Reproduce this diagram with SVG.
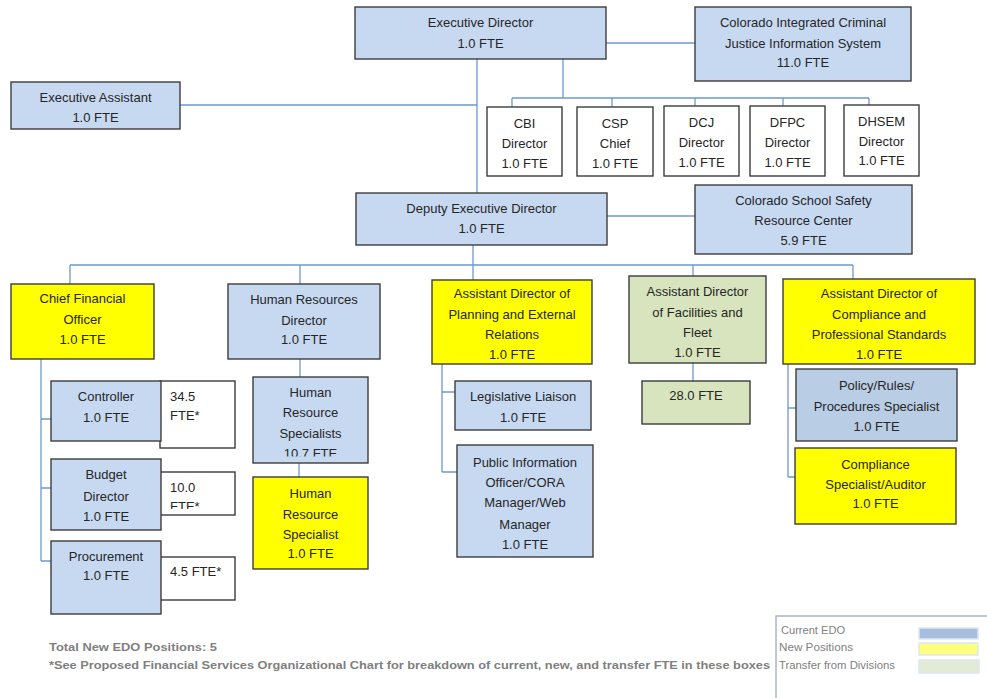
<svg xmlns="http://www.w3.org/2000/svg" width="987" height="698" viewBox="0 0 987 698">
<defs>
<style>
.b{stroke:#3c3c3c;stroke-width:1.4}
.blue{fill:#c6d9f1}
.blue2{fill:#b9cde5}
.yel{fill:#ffff00}
.grn{fill:#d7e4bd}
.wht{fill:#ffffff}
.t{font-family:"Liberation Sans",Arial,sans-serif;font-size:13px;fill:#262626;text-anchor:middle}
.tl{font-family:"Liberation Sans",Arial,sans-serif;font-size:13px;fill:#262626;text-anchor:start}
.c{fill:none;stroke:#6f98cb;stroke-width:1.3}
.ft{font-family:"Liberation Sans",Arial,sans-serif;font-size:11.5px;font-weight:bold;fill:#7f7f7f}
.lg{font-family:"Liberation Sans",Arial,sans-serif;font-size:10px;fill:#7f7f7f}
</style>
<clipPath id="clipHRS"><rect x="253" y="377" width="115" height="79.5"/></clipPath>
<clipPath id="clip10"><rect x="160" y="472" width="75" height="37"/></clipPath>
</defs>
<rect width="987" height="698" fill="#ffffff"/>

<g id="connectors">
<path class="c" d="M606 43H695"/>
<path class="c" d="M180 105H477"/>
<path class="c" d="M477 59V193"/>
<path class="c" d="M563 59V98M512 98H869M512 98V107M612 98V107M695 98V106M783 98V106M869 98V105"/>
<path class="c" d="M607 216H695"/>
<path class="c" d="M473 245V280"/>
<path class="c" d="M70 265H853M70 265V284M300 265V284M693 265V276M853 265V279"/>
<path class="c" d="M41 359V561M41 419H51M41 488H51M41 561H51"/>
<path class="c" d="M300 359V377M299 463V477"/>
<path class="c" d="M442 364V472M442 392H455M442 472H457"/>
<path class="c" d="M693 363V381"/>
<path class="c" d="M788 364V477M788 408H796M788 477H795"/>
</g>

<g id="executive-director"><rect class="b blue" x="355" y="7" width="251" height="52"/>
<text class="t" x="480.5" y="26.5">Executive Director</text><text class="t" x="480.5" y="48">1.0 FTE</text></g>

<g id="cicjis"><rect class="b blue" x="695" y="7" width="216" height="74"/>
<text class="t" x="803" y="26.5">Colorado Integrated Criminal</text><text class="t" x="803" y="47.5">Justice Information System</text><text class="t" x="803" y="67">11.0 FTE</text></g>

<g id="executive-assistant"><rect class="b blue" x="11" y="82" width="169" height="47"/>
<text class="t" x="95.5" y="101.5">Executive Assistant</text><text class="t" x="95.5" y="121.5">1.0 FTE</text></g>

<g id="cbi"><rect class="b wht" x="487" y="107" width="75" height="69"/>
<text class="t" x="524.5" y="127.5">CBI</text><text class="t" x="524.5" y="147.5">Director</text><text class="t" x="524.5" y="167.5">1.0 FTE</text></g>

<g id="csp"><rect class="b wht" x="577" y="107" width="76" height="69"/>
<text class="t" x="615" y="127.5">CSP</text><text class="t" x="615" y="147.5">Chief</text><text class="t" x="615" y="167.5">1.0 FTE</text></g>

<g id="dcj"><rect class="b wht" x="664" y="106" width="75" height="70"/>
<text class="t" x="701.5" y="126.5">DCJ</text><text class="t" x="701.5" y="146.5">Director</text><text class="t" x="701.5" y="166.5">1.0 FTE</text></g>

<g id="dfpc"><rect class="b wht" x="750" y="106" width="75" height="70"/>
<text class="t" x="787.5" y="126.5">DFPC</text><text class="t" x="787.5" y="146.5">Director</text><text class="t" x="787.5" y="166.5">1.0 FTE</text></g>

<g id="dhsem"><rect class="b wht" x="844" y="105" width="75" height="71"/>
<text class="t" x="881.5" y="125.5">DHSEM</text><text class="t" x="881.5" y="145.5">Director</text><text class="t" x="881.5" y="164.5">1.0 FTE</text></g>

<g id="deputy-executive-director"><rect class="b blue" x="356" y="193" width="251" height="52"/>
<text class="t" x="481.5" y="212.5">Deputy Executive Director</text><text class="t" x="481.5" y="232.5">1.0 FTE</text></g>

<g id="school-safety"><rect class="b blue" x="695" y="185" width="217" height="69"/>
<text class="t" x="803.5" y="204.5">Colorado School Safety</text><text class="t" x="803.5" y="224.5">Resource Center</text><text class="t" x="803.5" y="244.5">5.9 FTE</text></g>

<g id="cfo"><rect class="b yel" x="11" y="284" width="143" height="75"/>
<text class="t" x="82.5" y="302.5">Chief Financial</text><text class="t" x="82.5" y="323.5">Officer</text><text class="t" x="82.5" y="343.5">1.0  FTE</text></g>

<g id="hr-director"><rect class="b blue" x="228" y="284" width="152" height="75"/>
<text class="t" x="304" y="303.5">Human Resources</text><text class="t" x="304" y="324.5">Director</text><text class="t" x="304" y="343.5">1.0 FTE</text></g>

<g id="controller-fte"><rect class="b wht" x="160" y="381" width="75" height="67"/>
<text class="tl" x="170" y="400.5">34.5</text><text class="tl" x="170" y="420">FTE*</text></g>
<g id="controller"><rect class="b blue" x="51" y="381" width="110" height="60"/>
<text class="t" x="106" y="400.5">Controller</text><text class="t" x="106" y="421.5">1.0  FTE</text></g>

<g id="budget-fte"><rect class="b wht" x="160" y="472" width="75" height="43"/>
<g clip-path="url(#clip10)"><text class="tl" x="170" y="491.5">10.0</text><text class="tl" x="170" y="511">FTE*</text></g></g>
<g id="budget-director"><rect class="b blue" x="51" y="459" width="110" height="71"/>
<text class="t" x="106" y="479">Budget</text><text class="t" x="106" y="500.5">Director</text><text class="t" x="106" y="520.5">1.0 FTE</text></g>

<g id="procurement-fte"><rect class="b wht" x="160" y="557" width="75" height="43"/>
<text class="tl" x="170" y="575.5">4.5 FTE*</text></g>
<g id="procurement"><rect class="b blue" x="51" y="541" width="110" height="73"/>
<text class="t" x="106" y="560.5">Procurement</text><text class="t" x="106" y="580">1.0 FTE</text></g>

<g id="hr-specialists"><rect class="b blue" x="253" y="377" width="115" height="86"/>
<g clip-path="url(#clipHRS)"><text class="t" x="310.5" y="396.5">Human</text><text class="t" x="310.5" y="416.5">Resource</text><text class="t" x="310.5" y="438">Specialists</text><text class="t" x="310.5" y="458">10.7 FTE</text></g></g>

<g id="hr-specialist-new"><rect class="b yel" x="253" y="477" width="115" height="92"/>
<text class="t" x="310.5" y="497.5">Human</text><text class="t" x="310.5" y="518.5">Resource</text><text class="t" x="310.5" y="538.5">Specialist</text><text class="t" x="310.5" y="557.5">1.0 FTE</text></g>

<g id="planning"><rect class="b yel" x="432" y="280" width="160" height="84"/>
<text class="t" x="512" y="297.5">Assistant Director of</text><text class="t" x="512" y="318.5">Planning and External</text><text class="t" x="512" y="338.5">Relations</text><text class="t" x="512" y="358.5">1.0 FTE</text></g>

<g id="legislative-liaison"><rect class="b blue" x="455" y="381" width="136" height="49"/>
<text class="t" x="523" y="401">Legislative Liaison</text><text class="t" x="523" y="421.5">1.0 FTE</text></g>

<g id="public-information"><rect class="b blue" x="457" y="445" width="136" height="112"/>
<text class="t" x="525" y="466.5">Public Information</text><text class="t" x="525" y="486.5">Officer/CORA</text><text class="t" x="525" y="507">Manager/Web</text><text class="t" x="525" y="528.5">Manager</text><text class="t" x="525" y="548.5">1.0 FTE</text></g>

<g id="facilities"><rect class="b grn" x="629" y="276" width="137" height="87"/>
<text class="t" x="697.5" y="296">Assistant Director</text><text class="t" x="697.5" y="316.5">of Facilities and</text><text class="t" x="697.5" y="336.5">Fleet</text><text class="t" x="697.5" y="356.5">1.0 FTE</text></g>

<g id="facilities-fte"><rect class="b grn" x="642" y="381" width="108" height="43"/>
<text class="t" x="696" y="399.5">28.0 FTE</text></g>

<g id="compliance-ad"><rect class="b yel" x="783" y="279" width="192" height="85"/>
<text class="t" x="879" y="297.5">Assistant Director of</text><text class="t" x="879" y="318.5">Compliance and</text><text class="t" x="879" y="338.5">Professional Standards</text><text class="t" x="879" y="358.5">1.0 FTE</text></g>

<g id="policy-specialist"><rect class="b blue2" x="796" y="369" width="161" height="72"/>
<text class="t" x="876.5" y="390">Policy/Rules/</text><text class="t" x="876.5" y="411">Procedures Specialist</text><text class="t" x="876.5" y="431">1.0 FTE</text></g>

<g id="compliance-specialist"><rect class="b yel" x="795" y="448" width="161" height="76"/>
<text class="t" x="875.5" y="468.5">Compliance</text><text class="t" x="875.5" y="489">Specialist/Auditor</text><text class="t" x="875.5" y="508">1.0 FTE</text></g>

<g id="footer">
<text class="ft" x="49" y="651" textLength="168" lengthAdjust="spacingAndGlyphs">Total New EDO Positions:  5</text>
<text class="ft" x="49" y="669" textLength="721" lengthAdjust="spacingAndGlyphs">*See Proposed Financial  Services Organizational  Chart for breakdown of current, new, and transfer FTE in these boxes</text>
</g>

<g id="legend">
<rect x="776" y="616" width="220" height="90" fill="#ffffff" stroke="#a9b5c4" stroke-width="1.5"/>
<text class="lg" x="781" y="633.5" textLength="64" lengthAdjust="spacingAndGlyphs">Current EDO</text>
<text class="lg" x="779" y="651" textLength="74" lengthAdjust="spacingAndGlyphs">New Positions</text>
<text class="lg" x="779" y="668.5" textLength="116" lengthAdjust="spacingAndGlyphs">Transfer from Divisions</text>
<rect x="919" y="628" width="59" height="11" fill="#a7bfde" stroke="#dce6f2" stroke-width="1.5"/>
<rect x="919" y="643" width="59" height="12" fill="#ffff80" stroke="#dce6f2" stroke-width="1.5"/>
<rect x="919" y="660" width="60" height="13" fill="#e2ebd5" stroke="#dce6f2" stroke-width="1.5"/>
</g>
</svg>
